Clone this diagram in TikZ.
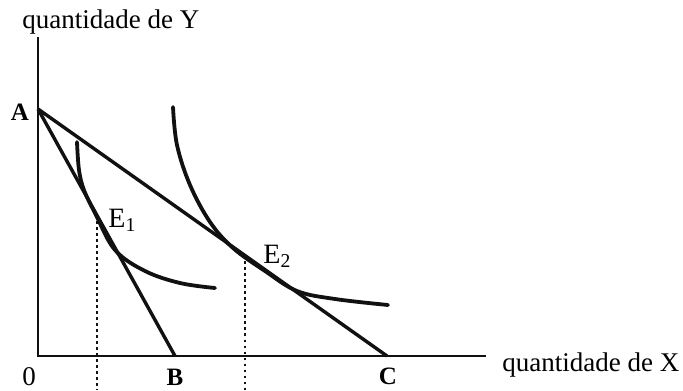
\documentclass[tikz,border=0pt]{standalone}
\usepackage{fontspec}
\setmainfont{Liberation Serif}
\usetikzlibrary{calc}
\definecolor{ink}{HTML}{111111}
\tikzset{
  axis/.style={draw=ink,line width=1pt},
  budget/.style={draw=ink,line width=1.7pt},
  indiff/.style={draw=ink,line width=1.9pt,line cap=round},
  guide/.style={draw=ink,line width=1.1pt,dash pattern=on 1.1pt off 1.9pt},
  axislabel/.style={font=\fontsize{13.5}{16}\selectfont,inner sep=0pt,anchor=base west},
  pointlabel/.style={font=\fontsize{12.5}{14}\selectfont\bfseries,inner sep=0pt,anchor=base},
  eqlabel/.style={font=\fontsize{14}{16}\selectfont,inner sep=0pt,anchor=base west},
}

\begin{document}
\begin{tikzpicture}[x=.5pt,y=-.5pt]
  \useasboundingbox (0,0) rectangle (683,390);
  % axes
  \coordinate (O) at (38,356);
  \coordinate (ytop) at (38,37);
  \coordinate (xend) at (486,356);
  \coordinate (bot) at (0,390);
  \draw[axis] (ytop) -- (O) -- (xend);
  \node[axislabel] (ylab) at (22,29) {quantidade de Y};
  \node[axislabel] (xlab) at (502,371) {quantidade de X};
  \node[font=\fontsize{13.5}{16}\selectfont,inner sep=0pt,anchor=base] (zero) at (29,385) {0};

  % budget lines
  \coordinate (A) at (38,109);
  \coordinate (B) at (175,356);
  \coordinate (C) at (387,356);
  \draw[budget] (A) -- (B);
  \draw[budget] (A) -- (C);
  \node[pointlabel] (Alab) at (20,120) {A};
  \node[pointlabel] (Blab) at (175,385) {B};
  \node[pointlabel] (Clab) at (388,384) {C};

  % indifference curves
  \draw[indiff] plot[smooth,tension=.6] coordinates
    {(77,142) (79,170) (84,190) (96,215) (115,250) (145,271) (180,283) (215,288)};
  \draw[indiff] plot[smooth,tension=.6] coordinates
    {(173,107) (177,145) (190,185) (210,222) (233,248) (265,271) (297,291) (335,299) (388,305)};

  % equilibria
  \coordinate (E1) at ($(A)!0.4307!(B)$);
  \coordinate (E2) at ($(A)!0.5931!(C)$);
  \draw[guide] (E1) -- (E1 |- bot);
  \draw[guide] (E2) -- (E2 |- bot);
  \node[eqlabel] (E1lab) at (108,227) {E\textsubscript{1}};
  \node[eqlabel] (E2lab) at (263,263) {E\textsubscript{2}};
\end{tikzpicture}
\end{document}
